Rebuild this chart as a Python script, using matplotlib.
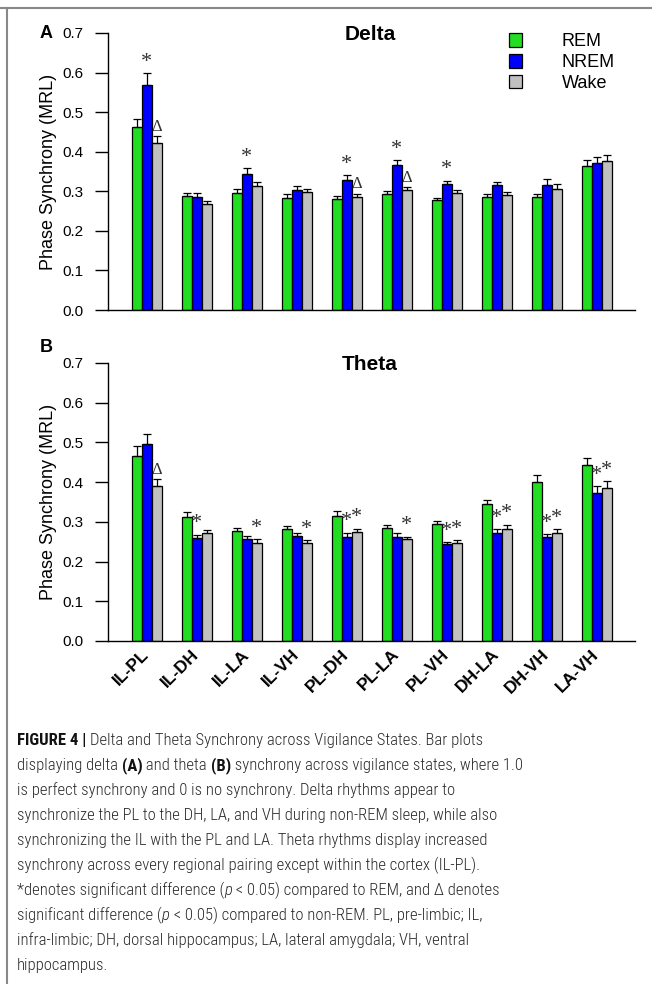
import numpy as np
import matplotlib
matplotlib.use("Agg")
import matplotlib.pyplot as plt
from matplotlib.lines import Line2D
from matplotlib.patches import Patch
from matplotlib.font_manager import FontProperties, fontManager

plt.rcParams['font.family'] = ['Liberation Sans', 'DejaVu Sans']

# %% data

pairs = ['IL-PL', 'IL-DH', 'IL-LA', 'IL-VH', 'PL-DH', 'PL-LA', 'PL-VH', 'DH-LA', 'DH-VH', 'LA-VH']
states = ['REM', 'NREM', 'Wake']

delta_rem = [0.462, 0.289, 0.296, 0.283, 0.280, 0.293, 0.277, 0.285, 0.285, 0.364]
delta_nrem = [0.569, 0.285, 0.344, 0.302, 0.328, 0.367, 0.318, 0.315, 0.317, 0.371]
delta_wake = [0.422, 0.269, 0.313, 0.297, 0.286, 0.302, 0.296, 0.290, 0.307, 0.376]
delta_rem_err = [0.021, 0.006, 0.010, 0.009, 0.007, 0.008, 0.007, 0.007, 0.007, 0.015]
delta_nrem_err = [0.030, 0.010, 0.015, 0.012, 0.013, 0.012, 0.009, 0.009, 0.013, 0.016]
delta_wake_err = [0.018, 0.007, 0.010, 0.010, 0.008, 0.009, 0.008, 0.009, 0.012, 0.016]
delta_sig_nrem = ['*', '', '*', '', '*', '*', '*', '', '', '']
delta_sig_wake = ['Δ', '', '', '', 'Δ', 'Δ', '', '', '', '']

theta_rem = [0.465, 0.311, 0.277, 0.282, 0.316, 0.284, 0.295, 0.344, 0.401, 0.444]
theta_nrem = [0.496, 0.260, 0.258, 0.264, 0.262, 0.263, 0.243, 0.272, 0.261, 0.373]
theta_wake = [0.390, 0.273, 0.248, 0.247, 0.274, 0.256, 0.247, 0.281, 0.272, 0.385]
theta_rem_err = [0.026, 0.014, 0.008, 0.008, 0.012, 0.008, 0.007, 0.012, 0.016, 0.018]
theta_nrem_err = [0.026, 0.008, 0.007, 0.007, 0.011, 0.010, 0.007, 0.009, 0.009, 0.017]
theta_wake_err = [0.018, 0.007, 0.008, 0.007, 0.009, 0.007, 0.007, 0.012, 0.009, 0.018]
theta_sig_nrem = ['', '*', '', '', '*', '', '*', '*', '*', '*']
theta_sig_wake = ['Δ', '', '*', '*', '*', '*', '*', '*', '*', '*']

colors = ['#22DD22', '#0000FF', '#C0C0C0']

# caption lines as (text, style) pieces; n = normal, b = bold, i = italic
caption = [
    [("FIGURE 4 | ", 'b'), ("Delta and Theta Synchrony across Vigilance States. Bar plots", 'n')],
    [("displaying delta ", 'n'), ("(A)", 'b'), (" and theta ", 'n'), ("(B)", 'b'),
     (" synchrony across vigilance states, where 1.0", 'n')],
    [("is perfect synchrony and 0 is no synchrony. Delta rhythms appear to", 'n')],
    [("synchronize the PL to the DH, LA, and VH during non-REM sleep, while also", 'n')],
    [("synchronizing the IL with the PL and LA. Theta rhythms display increased", 'n')],
    [("synchrony across every regional pairing except within the cortex (IL-PL).", 'n')],
    [("*denotes significant difference (", 'n'), ("p", 'i'),
     (" < 0.05) compared to REM, and Δ denotes", 'n')],
    [("significant difference (", 'n'), ("p", 'i'),
     (" < 0.05) compared to non-REM. PL, pre-limbic; IL,", 'n')],
    [("infra-limbic; DH, dorsal hippocampus; LA, lateral amygdala; VH, ventral", 'n')],
    [("hippocampus.", 'n')],
]

# %% figure

W, H = 652, 984
fig = plt.figure(figsize=(W / 100, H / 100), dpi=100)

def px_axes(left, top, right, bottom):
    return fig.add_axes([left / W, 1 - bottom / H, (right - left) / W, (bottom - top) / H])

ax_a = px_axes(108, 33, 635, 310)
ax_b = px_axes(108, 363, 635, 641)

x = np.arange(len(pairs))
w = 0.2

def draw_panel(ax, series, errs, sig_nrem, sig_wake, title, letter, letter_y, show_labels):
    for i, (vals, err, c) in enumerate(zip(series, errs, colors)):
        ax.bar(x + (i - 1) * w, vals, w, color=c, edgecolor='black', linewidth=0.9,
               yerr=[np.zeros(len(err)), err], capsize=3,
               error_kw=dict(elinewidth=0.9, capthick=0.9, ecolor='black'),
               label=states[i], zorder=2)
    # significance marks
    for j in range(len(pairs)):
        for k, sig in ((1, sig_nrem[j]), (2, sig_wake[j])):
            if sig:
                top = series[k][j] + errs[k][j]
                ax.text(x[j] + (k - 1) * w, top + 0.003, sig, ha='center', va='bottom',
                        fontsize=16 if sig == '*' else 12, color='#333333',
                        family='Liberation Serif')
    ax.set_xlim(-0.77, 9.77)
    ax.set_ylim(0, 0.7)
    ticks = np.arange(0, 0.71, 0.1)
    ax.set_yticks(ticks)
    ax.set_yticklabels(['%.1f' % v for v in ticks])
    ax.spines['top'].set_visible(False)
    ax.spines['right'].set_visible(False)
    ax.spines['left'].set_linewidth(1)
    ax.spines['bottom'].set_linewidth(1)
    ax.tick_params(axis='y', direction='out', length=9.5, width=1, labelsize=11, pad=8)
    ax.tick_params(axis='x', length=0)
    ax.set_ylabel('Phase Synchrony (MRL)', fontsize=13)
    ax.yaxis.set_label_coords(-0.097, 0.5)
    ax.text(4.47, 0.695, title, ha='center', va='center', fontsize=15, fontweight='bold')
    ax.text(-0.118, letter_y, letter, transform=ax.transAxes, ha='center', va='center',
            fontsize=13, fontweight='bold')
    ax.set_xticks(x)
    if show_labels:
        ax.set_xticklabels(pairs, rotation=45, ha='right', va='center',
                           rotation_mode='anchor', fontsize=12.5, fontweight='bold')
        ax.tick_params(axis='x', pad=8)
    else:
        ax.set_xticklabels([])

draw_panel(ax_a, [delta_rem, delta_nrem, delta_wake],
           [delta_rem_err, delta_nrem_err, delta_wake_err],
           delta_sig_nrem, delta_sig_wake, 'Delta', 'A', 1.0, False)
draw_panel(ax_b, [theta_rem, theta_nrem, theta_wake],
           [theta_rem_err, theta_nrem_err, theta_wake_err],
           theta_sig_nrem, theta_sig_wake, 'Theta', 'B', 1.054, True)

handles = [Patch(facecolor=c, edgecolor='black', linewidth=0.9) for c in colors]
ax_a.legend(handles, states, loc='upper left', bbox_to_anchor=(509 / W, 1 - 33 / H),
            bbox_transform=fig.transFigure, frameon=False, fontsize=13,
            handlelength=0.72, handleheight=0.8, handletextpad=2.2,
            labelspacing=0.2, borderpad=0, borderaxespad=0)

# frame lines
fig.add_artist(Line2D([0, 1], [1 - 8 / H, 1 - 8 / H], color='#888888', lw=1.5))
fig.add_artist(Line2D([7 / W, 7 / W], [0, 1 - 8 / H], color='#888888', lw=1.5))

# %% caption, in a narrow font if one is installed

names = {f.name for f in fontManager.ttflist}
cap_family, cap_stretch = 'Liberation Sans', 'normal'
for cand in ['Liberation Sans Narrow', 'Roboto Condensed', 'Open Sans Condensed',
             'Noto Sans Condensed', 'DejaVu Sans Condensed']:
    if cand in names:
        cap_family = cand
        break
else:
    for f in fontManager.ttflist:
        if f.name in ('Noto Sans', 'Roboto', 'Open Sans', 'DejaVu Sans', 'Liberation Sans') \
                and str(f.stretch) in ('condensed', 'semi-condensed'):
            cap_family, cap_stretch = f.name, str(f.stretch)
            break

renderer = fig.canvas.get_renderer()

def cap_font(style, size):
    return FontProperties(family=cap_family, stretch=cap_stretch, size=size,
                          weight='bold' if style == 'b' else 'light',
                          style='italic' if style == 'i' else 'normal')

def advance(s, fp):
    # width including trailing spaces
    w1 = renderer.get_text_width_height_descent(s + '|', fp, ismath=False)[0]
    w0 = renderer.get_text_width_height_descent('|', fp, ismath=False)[0]
    return w1 - w0

base = 13.0
line2 = sum(advance(s, cap_font(st, base)) for s, st in caption[1])
cap_size = min(14, base * 500.0 / line2)

for n, pieces in enumerate(caption):
    xpos = 17.0
    ypos = 1 - (745 + 25 * n) / H
    for s, st in pieces:
        fp = cap_font(st, cap_size)
        fig.text(xpos / W, ypos, s, ha='left', va='baseline', fontproperties=fp,
                 color='#111111' if st == 'b' else '#2a2a2a')
        xpos += advance(s, fp)

fig.savefig('out.png', dpi=100)
